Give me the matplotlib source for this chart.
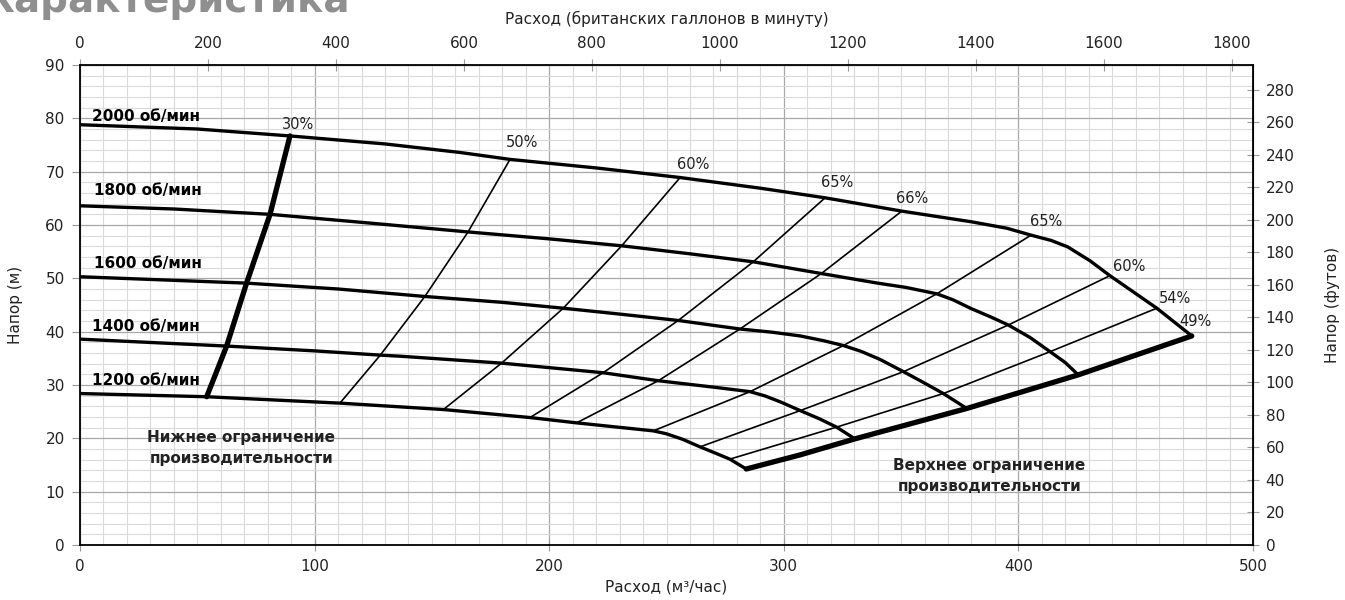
import matplotlib.pyplot as plt
import numpy as np

plt.rcParams['font.family'] = ['DejaVu Sans']

# conversion factors for the secondary axes
M3H_TO_GPM = 3.6662   # m3/h -> UK gallons per minute
M_TO_FT = 3.2808      # m -> feet

# speed curves: flow (m3/h) and head (m)
rpm2000_q = [0, 50, 89.5, 130, 162, 183.3, 220, 255.8, 290, 317.6, 350.3, 380, 395, 405.4, 414, 421, 430.5, 439, 459, 473.9]
rpm2000_h = [78.8, 78.0, 76.7, 75.2, 73.6, 72.3, 70.7, 68.9, 66.9, 65.1, 62.6, 60.6, 59.4, 58.1, 57.1, 55.9, 53.3, 50.5, 44.4, 39.2]

rpm1800_q = [0, 40, 81, 120, 165.4, 200, 230.9, 260, 287, 316, 340, 352, 365.2, 372, 380, 388, 395.7, 405, 413.5, 420, 425.5]
rpm1800_h = [63.6, 63.0, 62.0, 60.5, 58.7, 57.4, 56.1, 54.6, 53.1, 50.9, 49.1, 48.3, 47.1, 46.0, 44.3, 42.8, 41.25, 38.9, 36.25, 34.2, 31.9]

rpm1600_q = [0, 71, 110, 147, 180, 206, 230, 255, 281.3, 295, 307, 317, 325.4, 333, 341, 351, 359, 368, 378]
rpm1600_h = [50.3, 49.1, 48.0, 46.6, 45.5, 44.4, 43.3, 42.1, 40.5, 39.9, 39.2, 38.3, 37.4, 36.3, 34.8, 32.5, 30.6, 28.4, 25.6]

rpm1400_q = [0, 62.5, 100, 128, 136.4, 179.7, 223, 246.5, 270, 285.6, 292, 299, 307, 315, 322.5, 330.3]
rpm1400_h = [38.6, 37.3, 36.4, 35.6, 35.4, 34.1, 32.3, 30.8, 29.6, 28.75, 27.95, 26.75, 25.2, 23.7, 22.1, 19.9]

rpm1200_q = [0, 54, 110.8, 154.9, 191.8, 211.7, 244.4, 250, 257, 264.3, 271, 277, 284]
rpm1200_h = [28.4, 27.8, 26.6, 25.4, 23.9, 22.9, 21.4, 20.85, 19.8, 18.4, 17.2, 16.1, 14.25]

rpm_labels = ['2000 об/мин', '1800 об/мин', '1600 об/мин', '1400 об/мин', '1200 об/мин']
rpm_label_q = [5.2, 6.0, 6.0, 5.2, 5.2]
rpm_label_h = [80.4, 66.4, 52.8, 40.9, 30.9]

# efficiency lines (from 2000 rpm curve down to 1200 rpm curve)
eff50_q = [183.3, 165.4, 147, 128, 110.8]
eff50_h = [72.3, 58.7, 46.6, 35.6, 26.6]
eff60_q = [255.8, 230.9, 206, 179.7, 154.9]
eff60_h = [68.9, 56.1, 44.4, 34.1, 25.4]
eff65a_q = [317.6, 287, 255, 223, 191.8]
eff65a_h = [65.1, 53.1, 42.1, 32.3, 23.9]
eff66_q = [350.3, 316, 281.3, 246.5, 211.7]
eff66_h = [62.6, 50.9, 40.5, 30.8, 22.9]
eff65b_q = [405.4, 365.2, 325.4, 285.6, 244.4]
eff65b_h = [58.1, 47.1, 37.4, 28.75, 21.4]
eff60b_q = [439, 395.7, 351, 307, 264.3]
eff60b_h = [50.5, 41.25, 32.5, 25.2, 18.4]
eff54_q = [459, 413.5, 368, 322.5, 277]
eff54_h = [44.4, 36.25, 28.4, 22.1, 16.1]

# operating limits
lower_q = [54, 62.5, 71, 81, 89.5]
lower_h = [27.8, 37.3, 49.1, 62.0, 76.7]
upper_q = [284, 307, 330.3, 378, 425.5, 473.9]
upper_h = [14.25, 16.9, 19.9, 25.6, 31.9, 39.2]

pct_labels = ['30%', '50%', '60%', '65%', '66%', '65%', '60%', '54%', '49%']
pct_q = [92.8, 188.4, 261.3, 322.7, 354.6, 411.8, 447.2, 466.8, 475.3]
pct_h = [78.9, 75.5, 71.25, 68.0, 65.0, 60.6, 52.25, 46.3, 41.9]

TICK_COLOR = '#999999'
TEXT_COLOR = '#222222'

fig = plt.figure(figsize=(13.45, 6.0), dpi=100)
ax = fig.add_axes([80 / 1345, 55 / 600, (1253 - 80) / 1345, (545 - 65) / 600])
ax.set_xlim(0, 500)
ax.set_ylim(0, 90)

ax.set_xticks(np.arange(0, 501, 100))
ax.set_xticks(np.arange(0, 501, 10), minor=True)
ax.set_yticks(np.arange(0, 91, 10))
ax.set_yticks(np.arange(0, 91, 2), minor=True)
ax.grid(which='minor', color='#dadada', lw=0.8)
ax.grid(which='major', color='#a8a8a8', lw=0.9)
ax.set_axisbelow(True)
ax.tick_params(which='minor', length=0)
ax.tick_params(axis='x', which='major', direction='inout', length=8, color=TICK_COLOR,
               labelsize=11, labelcolor=TEXT_COLOR, pad=6)
ax.tick_params(axis='y', which='major', direction='out', length=6, color=TICK_COLOR,
               labelsize=11, labelcolor=TEXT_COLOR, pad=5)
for s in ax.spines.values():
    s.set_linewidth(1.3)

ax.set_xlabel('Расход (м³/час)', fontsize=11, color=TEXT_COLOR, labelpad=4)
ax.set_ylabel('Напор (м)', fontsize=11, color=TEXT_COLOR, labelpad=16)

secx = ax.secondary_xaxis('top', functions=(lambda q: q * M3H_TO_GPM, lambda g: g / M3H_TO_GPM))
secx.set_xticks(np.arange(0, 1801, 200))
secx.tick_params(direction='inout', length=8, color=TICK_COLOR, labelsize=11,
                 labelcolor=TEXT_COLOR, pad=6)
secx.set_xlabel('Расход (британских галлонов в минуту)', fontsize=11, color=TEXT_COLOR, labelpad=9)

secy = ax.secondary_yaxis('right', functions=(lambda h: h * M_TO_FT, lambda f: f / M_TO_FT))
secy.set_yticks(np.arange(0, 281, 20))
secy.tick_params(direction='inout', length=8, color=TICK_COLOR, labelsize=11,
                 labelcolor=TEXT_COLOR, pad=5)
secy.set_ylabel('Напор (футов)', fontsize=11, color=TEXT_COLOR, labelpad=22)

# efficiency lines
for q, h in [(eff50_q, eff50_h), (eff60_q, eff60_h), (eff65a_q, eff65a_h), (eff66_q, eff66_h),
             (eff65b_q, eff65b_h), (eff60b_q, eff60b_h), (eff54_q, eff54_h)]:
    ax.plot(q, h, color='black', lw=1.2, solid_joinstyle='round', zorder=3)

# speed curves
for q, h in [(rpm2000_q, rpm2000_h), (rpm1800_q, rpm1800_h), (rpm1600_q, rpm1600_h),
             (rpm1400_q, rpm1400_h), (rpm1200_q, rpm1200_h)]:
    ax.plot(q, h, color='black', lw=2.4, solid_joinstyle='round', solid_capstyle='round', zorder=4)

# limits
ax.plot(lower_q, lower_h, color='black', lw=3.8, solid_capstyle='round', zorder=5)
ax.plot(upper_q, upper_h, color='black', lw=3.8, solid_capstyle='round', zorder=5)

for lbl, q, h in zip(rpm_labels, rpm_label_q, rpm_label_h):
    ax.text(q, h, lbl, fontsize=11, fontweight='bold', ha='left', va='center', zorder=6)

for lbl, q, h in zip(pct_labels, pct_q, pct_h):
    ax.text(q, h, lbl, fontsize=10.5, color=TEXT_COLOR, ha='center', va='center', zorder=6)

ax.text(68.7, 18.2, 'Нижнее ограничение\nпроизводительности', fontsize=11, fontweight='bold',
        ha='center', va='center', linespacing=1.5, color=TEXT_COLOR, zorder=6)
ax.text(387.7, 12.9, 'Верхнее ограничение\nпроизводительности', fontsize=11, fontweight='bold',
        ha='center', va='center', linespacing=1.5, color=TEXT_COLOR, zorder=6)

# title, partly cut off at the top edge like in the source
fig.text(-0.012, 1 - 12 / 600, 'Характеристика', fontsize=28, fontweight='bold',
         color='#8f8f8f', ha='left', va='baseline')

fig.savefig('out.png', dpi=100)
